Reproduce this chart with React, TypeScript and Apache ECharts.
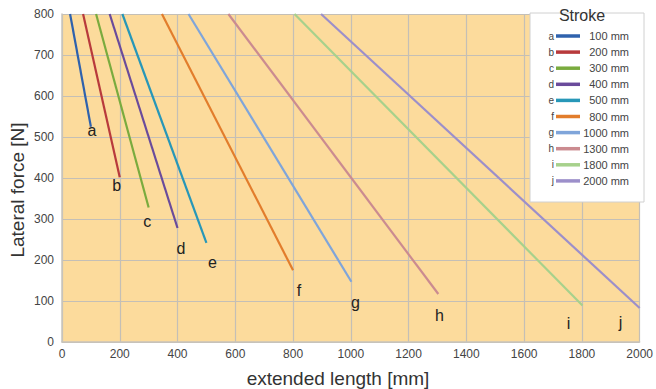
import React, { useEffect, useRef } from "react";
import * as echarts from "echarts";

const letters = ["a", "b", "c", "d", "e", "f", "g", "h", "i", "j"];
const strokes = ["100 mm", "200 mm", "300 mm", "400 mm", "500 mm", "800 mm", "1000 mm", "1300 mm", "1800 mm", "2000 mm"];
const colors = ["#2f62ad", "#b83a3c", "#7aab3e", "#6a4b9b", "#2797b8", "#e27d2c", "#7fa5da", "#cb8b90", "#a7d18c", "#9c8fca"];
// start point (length at 800 N) and end point [length, force]
const startX = [28, 73, 118, 165, 209, 346, 438, 576, 805, 897];
const startY = [800, 800, 800, 800, 800, 800, 800, 800, 800, 800];
const endX = [100, 200, 300, 400, 500, 800, 1002, 1303, 1802, 2000];
const endY = [525, 402, 328, 278, 242, 175, 147, 117, 89, 83];
const xTicks = [0, 200, 400, 600, 800, 1000, 1200, 1400, 1600, 1800, 2000];
const yTicks = [0, 100, 200, 300, 400, 500, 600, 700, 800];

// label offsets (pixels) relative to line end
const labelOffsets: [number, number][] = [
  [1, 4], [-3, 8], [-1.5, 14], [3.5, 20], [6, 19.5], [6, 20], [4, 21], [1, 21], [-14, 17.5], [-19, 15],
];

export default function App() {
  const ref = useRef<HTMLDivElement>(null);
  useEffect(() => {
    const chart = echarts.init(ref.current!, undefined, { renderer: "svg" });
    const font = "Liberation Sans, Arial, sans-serif";
    const series: any[] = letters.map((l, i) => ({
      type: "line",
      name: l,
      data: [
        [startX[i], startY[i]],
        [endX[i], endY[i]],
      ],
      symbol: "none",
      lineStyle: { color: colors[i], width: 2.2 },
      endLabel: {
        show: true,
        formatter: l,
        distance: 0,
        offset: labelOffsets[i],
        align: "center",
        verticalAlign: "middle",
        color: "#222",
        fontSize: 16,
        fontFamily: font,
      },
      clip: false,
      z: 3,
    }));

    const legendX = 530;
    const legendTop = 13;
    const legendGraphics: any[] = [
      {
        type: "rect",
        shape: { x: legendX, y: legendTop, width: 114, height: 189 },
        style: { fill: "#ffffff", stroke: "#d0d0d0", lineWidth: 1 },
        z: 10,
      },
      {
        type: "text",
        x: 582,
        y: 15,
        style: { text: "Stroke", fill: "#333", font: `16px ${font}`, textAlign: "center", textVerticalAlign: "middle" },
        z: 11,
      },
    ];
    letters.forEach((l, i) => {
      const y = 36 + i * 16.1;
      legendGraphics.push(
        {
          type: "text",
          x: 554,
          y,
          style: { text: l, fill: "#444", font: `10px ${font}`, textAlign: "right", textVerticalAlign: "middle" },
          z: 11,
        },
        {
          type: "line",
          shape: { x1: 556, y1: y, x2: 580, y2: y },
          style: { stroke: colors[i], lineWidth: 3.5 },
          z: 11,
        },
        {
          type: "text",
          x: 629,
          y,
          style: { text: strokes[i], fill: "#444", font: `11px ${font}`, textAlign: "right", textVerticalAlign: "middle" },
          z: 11,
        }
      );
    });
    legendGraphics.push(
      {
        type: "text",
        x: 338,
        y: 378,
        style: { text: "extended length [mm]", fill: "#333", font: `19px ${font}`, textAlign: "center", textVerticalAlign: "middle" },
      },
      {
        type: "text",
        x: 17,
        y: 190,
        rotation: Math.PI / 2,
        style: { text: "Lateral force [N]", fill: "#333", font: `19px ${font}`, textAlign: "center", textVerticalAlign: "middle" },
      }
    );

    chart.setOption({
      animation: false,
      grid: {
        left: 62,
        top: 14,
        right: 12,
        bottom: 47,
        show: true,
        backgroundColor: "#fcdb9c",
        borderWidth: 0,
      },
      xAxis: {
        type: "value",
        min: xTicks[0],
        max: xTicks[xTicks.length - 1],
        interval: 200,
        axisLine: { show: true, lineStyle: { color: "#c8c4bc", width: 1.5 } },
        axisTick: { show: false },
        splitLine: { show: true, lineStyle: { color: "#c4bfb6", width: 1.2 } },
        axisLabel: { color: "#444", fontSize: 12, fontFamily: font, margin: 6, formatter: (v: number) => String(v) },
      },
      yAxis: {
        type: "value",
        min: yTicks[0],
        max: yTicks[yTicks.length - 1],
        interval: 100,
        axisLine: { show: true, lineStyle: { color: "#c8c4bc", width: 1.5 } },
        axisTick: { show: false },
        splitLine: { show: true, lineStyle: { color: "#c4bfb6", width: 1.2 } },
        axisLabel: { color: "#444", fontSize: 12, fontFamily: font, margin: 8, formatter: (v: number) => String(v) },
      },
      series,
      graphic: legendGraphics,
    });
    return () => chart.dispose();
  }, []);
  return <div ref={ref} style={{ width: 656, height: 389, position: "absolute", left: 0, top: 0 }} />;
}
